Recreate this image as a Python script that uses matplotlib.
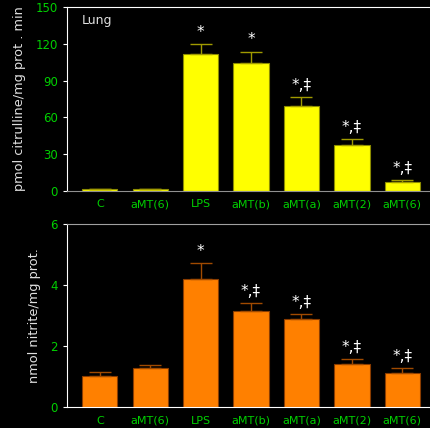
import matplotlib
matplotlib.use("Agg")
import matplotlib.pyplot as plt

# ---- data ----
groups = ["C", "aMT(6)", "LPS", "aMT(b)", "aMT(a)", "aMT(2)", "aMT(6)"]

citrulline = [1.4, 1.0, 112, 104.7, 69.3, 37.6, 6.9]
citrulline_err = [0.3, 0.3, 8, 9, 7, 4.4, 1.6]
citrulline_marks = ["", "", "*", "*", "*,\u2021", "*,\u2021", "*,\u2021"]

nitrite = [1.02, 1.28, 4.2, 3.15, 2.9, 1.42, 1.13]
nitrite_err = [0.15, 0.09, 0.53, 0.25, 0.14, 0.17, 0.15]
nitrite_marks = ["", "", "*", "*,\u2021", "*,\u2021", "*,\u2021", "*,\u2021"]

BG = "black"
TICK_GREEN = "#00d000"
LABEL = "#e0e0e0"


def draw_panel(ax, vals, errs, marks, face, edge, ecol, yticks, ylabel, ymax):
    x = list(range(len(vals)))
    ax.set_facecolor(BG)
    ax.bar(x, vals, width=0.7, color=face, edgecolor=edge, linewidth=0.8, zorder=2)
    ax.errorbar(x, vals, yerr=[[0] * len(errs), errs], fmt="none", ecolor=ecol,
                elinewidth=1.0, capsize=8, capthick=1.0, zorder=3)
    for xi, v, e, m in zip(x, vals, errs, marks):
        if m:
            ax.annotate(m, (xi, v + e), xytext=(0, 3), textcoords="offset points",
                        ha="center", va="bottom", color="white", fontsize=11)
    ax.set_xlim(-0.65, 6.55)
    ax.set_ylim(0, ymax)
    ax.set_yticks(yticks)
    ax.set_xticks(x)
    ax.set_xticklabels(groups)
    ax.tick_params(axis="x", length=0, colors=TICK_GREEN, labelsize=8, pad=6)
    ax.tick_params(axis="y", length=3, color="white", labelcolor=TICK_GREEN,
                   labelsize=8.5, direction="out")
    for lab in ax.get_xticklabels() + ax.get_yticklabels():
        lab.set_color(TICK_GREEN)
    ax.spines["right"].set_visible(False)
    ax.spines["left"].set_color("white")
    ax.set_ylabel(ylabel, color=LABEL, fontsize=9.3, labelpad=7)


fig = plt.figure(figsize=(4.30, 4.28), dpi=100, facecolor=BG)

ax1 = fig.add_axes([0.156, 0.5544, 0.844, 0.4287])
draw_panel(ax1, citrulline, citrulline_err, citrulline_marks,
           "#ffff00", "#8c8c00", "#a09a00", [0, 30, 60, 90, 120, 150],
           "pmol citrulline/mg prot . min", 150)
ax1.spines["top"].set_color("white")
ax1.spines["bottom"].set_color("#909090")
ax1.text(0.04, 0.93, "Lung", transform=ax1.transAxes, color=LABEL,
         fontsize=9, ha="left", va="center")

ax2 = fig.add_axes([0.156, 0.0484, 0.844, 0.4282])
draw_panel(ax2, nitrite, nitrite_err, nitrite_marks,
           "#ff8000", "#8a3c00", "#a04a00", [0, 2, 4, 6],
           "nmol nitrite/mg prot.", 6)
ax2.spines["top"].set_color("#a0a0a0")
ax2.spines["bottom"].set_color("white")

fig.savefig("out.png", dpi=100, facecolor=BG)
